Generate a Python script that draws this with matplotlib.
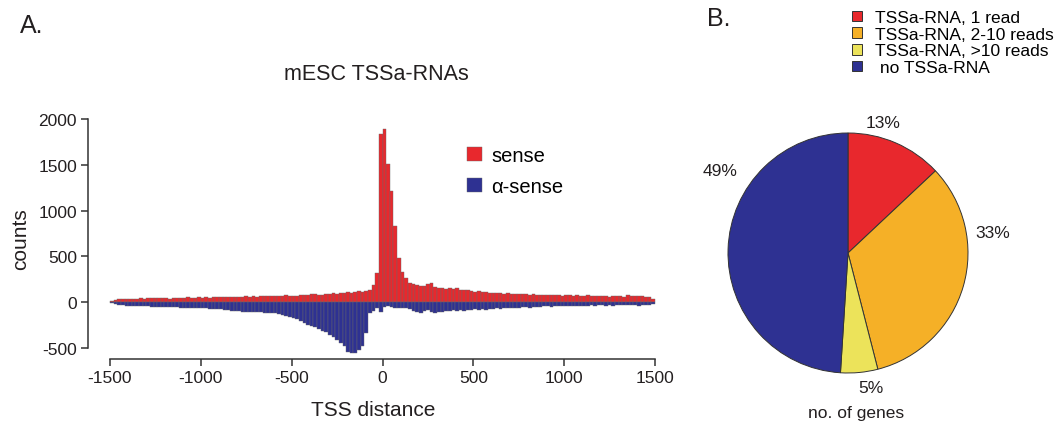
import numpy as np
import matplotlib
matplotlib.use('Agg')
import matplotlib.pyplot as plt
from matplotlib.patches import Patch

plt.rcParams['font.family'] = ['Liberation Sans', 'DejaVu Sans']
plt.rcParams['axes.unicode_minus'] = False

# histogram bins: left edges, width 20, from -1500 to 1480
bin_width = 20
bin_edges = np.arange(-1500, 1500, bin_width)

# sense read counts per bin (left to right)
sense = [
    15, 28, 30, 33, 35, 38, 34, 40, 42, 40,
    44, 43, 41, 45, 42, 47, 40, 44, 48, 43,
    47, 52, 45, 50, 55, 48, 53, 50, 56, 52,
    55, 58, 54, 60, 57, 62, 58, 64, 60, 66,
    62, 65, 68, 63, 70, 66, 72, 68, 74, 70,
    72, 68, 76, 80, 74, 85, 90, 78, 82, 95,
    88, 100, 92, 105, 98, 110, 104, 115, 120, 112,
    120, 138, 193, 320, 1840, 1890, 1505, 1218, 836, 483,
    327, 265, 211, 200, 193, 175, 182, 200, 211, 164,
    156, 160, 145, 150, 140, 152, 138, 130, 135, 120,
    115, 118, 108, 112, 100, 105, 96, 102, 94, 98,
    90, 95, 86, 92, 88, 80, 85, 78, 82, 76,
    80, 74, 84, 78, 72, 76, 82, 70, 75, 72,
    68, 74, 66, 70, 64, 68, 72, 62, 66, 64,
    70, 62, 75, 68, 72, 65, 70, 60, 55, 30,
]

# antisense read counts per bin (drawn below zero)
antisense = [
    8, 25, 30, 35, 40, 42, 44, 40, 45, 46,
    45, 48, 50, 52, 50, 55, 53, 56, 55, 58,
    58, 60, 62, 65, 64, 68, 66, 70, 72, 75,
    78, 82, 80, 95, 100, 98, 105, 108, 106, 110,
    110, 112, 115, 118, 116, 120, 125, 135, 150, 160,
    170, 180, 200, 230, 250, 262, 275, 295, 310, 330,
    360, 385, 410, 440, 480, 545, 555, 550, 520, 480,
    340, 115, 95, 60, 110, 50, 45, 50, 58, 62,
    60, 65, 75, 100, 112, 115, 98, 90, 110, 115,
    105, 112, 95, 100, 88, 92, 85, 98, 80, 90,
    78, 85, 72, 80, 70, 75, 66, 72, 64, 68,
    62, 58, 60, 55, 52, 58, 50, 48, 52, 46,
    44, 48, 42, 40, 45, 38, 42, 36, 40, 38,
    36, 40, 34, 38, 35, 32, 38, 34, 36, 33,
    35, 30, 34, 28, 32, 36, 30, 34, 28, 22,
]

x_ticks = [-1500, -1000, -500, 0, 500, 1000, 1500]
y_ticks = [-500, 0, 500, 1000, 1500, 2000]

# pie data
pie_labels = ['TSSa-RNA, 1 read', 'TSSa-RNA, 2-10 reads', 'TSSa-RNA, >10 reads', ' no TSSa-RNA']
pie_values = [13, 33, 5, 49]

red = '#e8282d'
blue = '#2e3192'
orange = '#f5b027'
yellow = '#ece35a'
edge = '#6a6a6a'
text_col = '#231f20'

W, H = 1062, 427
fig = plt.figure(figsize=(W / 100, H / 100), dpi=100)

# ---- panel A: histogram ----
ax = fig.add_axes([88 / W, 1 - 360 / H, (658 - 88) / W, (360 - 118) / H])
ax.bar(bin_edges, sense, width=bin_width, align='edge', color=red,
       edgecolor=edge, linewidth=0.3, label='sense')
ax.bar(bin_edges, -np.array(antisense), width=bin_width, align='edge', color=blue,
       edgecolor=edge, linewidth=0.3, label='\u03b1-sense')

ax.set_xlim(-1621, 1516)
ax.set_ylim(-620, 2022)
for s in ['top', 'right']:
    ax.spines[s].set_visible(False)
ax.spines['left'].set_bounds(-500, 2000)
ax.spines['bottom'].set_bounds(-1500, 1500)
for s in ['left', 'bottom']:
    ax.spines[s].set_color('#333333')
    ax.spines[s].set_linewidth(1.1)
ax.set_xticks(x_ticks)
ax.set_yticks(y_ticks)
ax.tick_params(direction='out', length=5, width=1.1, color='#333333',
               labelsize=12.5, labelcolor=text_col, pad=3)
ax.set_xlabel('TSS distance', fontsize=15, color=text_col, labelpad=11)
ax.set_ylabel('counts', fontsize=15, color=text_col, labelpad=6)

ax.legend(loc='upper left', bbox_to_anchor=((467 - 88) / (658 - 88), (360 - 147) / (360 - 118)),
          frameon=False, fontsize=14.5, handlelength=0.75, handleheight=0.75,
          handletextpad=0.45, labelspacing=0.6, borderpad=0, borderaxespad=0)

fig.text(376 / W, 1 - 75 / H, 'mESC TSSa-RNAs', fontsize=15.5, color=text_col,
         ha='center', va='center')
fig.text(20 / W, 1 - 26 / H, 'A.', fontsize=18, color=text_col, ha='left', va='center')

# ---- panel B: pie ----
cx, cy, r = 848, 254, 120
pax = fig.add_axes([(cx - r) / W, 1 - (cy + r) / H, 2 * r / W, 2 * r / H])
pie_colors = [red, orange, yellow, blue]
pax.pie(pie_values, colors=pie_colors, startangle=90, counterclock=False,
        wedgeprops=dict(edgecolor='#333333', linewidth=0.7))
pax.set_xlim(-1, 1)
pax.set_ylim(-1, 1)
pax.set_aspect('equal')

# percentage label positions (in pie radii)
pct_pos = [(0.29, 1.09), (1.21, 0.17), (0.19, -1.12), (-1.07, 0.69)]
for v, (px, py) in zip(pie_values, pct_pos):
    pax.text(px, py, f'{v}%', fontsize=12.5, color=text_col, ha='center', va='center')
pax.text(0.07, -1.33, 'no. of genes', fontsize=12.5, color=text_col, ha='center', va='center')

handles = [Patch(facecolor=c, edgecolor='#333333', linewidth=0.7) for c in pie_colors]
fig.legend(handles, pie_labels, loc='upper left', bbox_to_anchor=(852 / W, 1 - 11 / H),
           frameon=False, fontsize=12.5, handlelength=0.55, handleheight=0.55,
           handletextpad=0.75, labelspacing=0.1, borderpad=0, borderaxespad=0)

fig.text(707 / W, 1 - 19 / H, 'B.', fontsize=18, color=text_col, ha='left', va='center')

plt.savefig('out.png', dpi=100)
